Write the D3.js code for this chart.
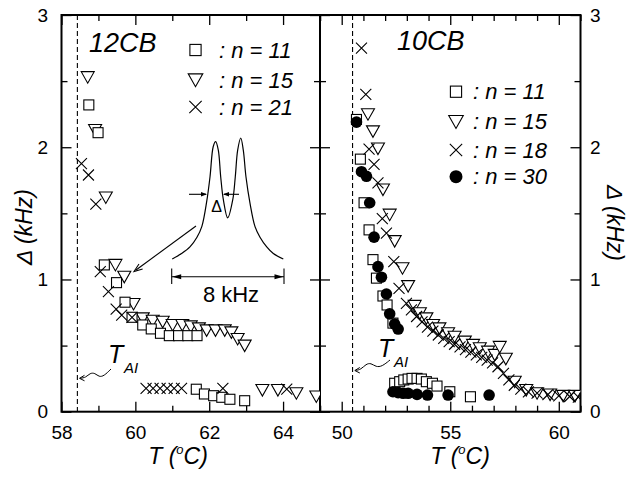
<!DOCTYPE html>
<html><head><meta charset="utf-8">
<script src="https://cdn.jsdelivr.net/npm/d3@7"></script>
<style>
html,body{margin:0;padding:0;background:#fff;}
svg{display:block;}
text{font-family:"Liberation Sans",Arial,Helvetica,sans-serif;fill:#000;}
</style></head>
<body>
<svg id="c" width="634" height="478"></svg>
<script>
// ---------------- data ----------------
// 12CB panel (T in °C, Δ in kHz)
const cb12_n11 = [[58.74,2.32],[58.99,2.11],[59.16,1.11],[59.49,0.976],[59.72,0.828],[59.91,0.714],[60.2,0.656],[60.43,0.626],[60.68,0.593],[60.92,0.575],[61.17,0.575],[61.42,0.575],[61.67,0.575],[61.65,0.17],[61.87,0.134],[62.12,0.121],[62.34,0.109],[62.56,0.094],[62.96,0.083]];
const cb12_n15 = [[58.71,2.53],[58.91,2.13],[59.2,1.62],[59.46,1.11],[59.7,1.02],[59.95,0.815],[60.2,0.706],[60.47,0.688],[60.74,0.68],[61.01,0.656],[61.27,0.656],[61.5,0.645],[61.72,0.63],[61.93,0.615],[62.17,0.615],[62.42,0.615],[62.6,0.6],[62.77,0.55],[62.96,0.5],[63.44,0.164],[63.86,0.164],[64.36,0.14],[64.9,0.115]];
const cb12_n21 = [[58.54,1.876],[58.73,1.79],[58.93,1.57],[59.05,1.06],[59.27,0.908],[59.48,0.775],[59.63,0.73],[59.91,0.714],[60.29,0.177],[60.48,0.177],[60.67,0.177],[60.86,0.177],[61.05,0.177],[61.25,0.177],[62.37,0.177],[64.1,0.17]];
// 10CB panel
const cb10_n11 = [[50.68,2.21],[50.86,1.91],[51.03,1.58],[51.26,1.375],[51.44,1.15],[51.6,1.01],[51.9,0.875],[52.09,0.807],[52.36,0.67],[52.44,0.215],[52.67,0.227],[52.86,0.24],[53.06,0.247],[53.24,0.252],[53.47,0.252],[53.67,0.247],[53.9,0.227],[54.18,0.215],[54.39,0.194],[54.98,0.151],[55.93,0.113]];
const cb10_n15 = [[51.21,2.25],[51.44,2.12],[51.67,1.99],[51.9,1.68],[52.21,1.49],[52.44,1.29],[52.8,1.085],[53.06,0.95],[53.36,0.8],[53.6,0.744],[53.9,0.706],[54.21,0.656],[54.5,0.63],[54.9,0.593],[55.2,0.567],[55.67,0.53],[56.05,0.505],[56.36,0.48],[56.74,0.454],[57.05,0.43],[57.28,0.49],[57.56,0.4],[57.97,0.227],[58.5,0.164],[59.0,0.14],[59.6,0.13],[60.2,0.12],[60.75,0.12]];
const cb10_n18 = [[50.91,2.75],[51.11,2.4],[51.26,1.985],[51.49,1.87],[51.67,1.73],[51.87,1.46],[52.06,1.35],[52.4,1.135],[52.64,0.933],[52.98,0.82],[53.21,0.77],[53.45,0.72],[53.7,0.68],[53.95,0.64],[54.2,0.61],[54.45,0.58],[54.7,0.555],[54.95,0.53],[55.2,0.51],[55.45,0.49],[55.7,0.47],[55.95,0.45],[56.2,0.43],[56.45,0.41],[56.7,0.39],[56.95,0.37],[57.2,0.34],[57.45,0.29],[57.7,0.24],[57.95,0.2],[58.25,0.17],[58.6,0.15],[59.0,0.14],[59.5,0.13],[60.0,0.12],[60.5,0.115],[60.9,0.11]];
const cb10_n30 = [[50.68,2.19],[50.91,1.815],[51.14,1.78],[51.29,1.58],[51.49,1.32],[51.67,1.097],[51.83,1.017],[52.06,0.89],[52.21,0.74],[52.44,0.663],[52.6,0.625],[52.36,0.151],[52.6,0.144],[52.83,0.139],[53.06,0.139],[53.47,0.131],[53.95,0.126],[54.9,0.126],[56.79,0.126]];
// T_AI transition temperatures
const tAI12 = 58.43;
const tAI10 = 50.5;
// inset spectrum: frequency offset (kHz) and relative intensity
const insetFreq = [-3.96,-3.3,-2.7,-2.2,-1.85,-1.5,-1.27,-1.04,-0.87,-0.68,-0.51,-0.32,-0.01,0.35,0.53,0.7,0.92,1.1,1.29,1.58,1.93,2.29,2.77,3.24,3.95];
const insetInt  = [0,0.045,0.1,0.18,0.27,0.48,0.68,0.93,0.97,0.9,0.68,0.49,0.34,0.49,0.68,0.9,1.0,0.9,0.68,0.46,0.27,0.18,0.1,0.045,0];
// axes ticks
const yMajor = [0,1,2,3];
const yMinor = [0.5,1.5,2.5];
const x12Major = [58,60,62,64];
const x12Minor = [59,61,63,65];
const x10Major = [50,55,60];
const x10Minor = [49,51,52,53,54,56,57,58,59,61];
const legend12 = [["sq",": n = 11"],["tri",": n = 15"],["x",": n = 21"]];
const legend10 = [["sq",": n = 11"],["tri",": n = 15"],["x",": n = 18"],["dot",": n = 30"]];

// ---------------- drawing ----------------
const svg = d3.select("#c");
const yTop = 15, yBot = 411.7, xL = 61.5, xM = 320, xR = 580.5;
const y = d3.scaleLinear().domain([0,3]).range([yBot, yTop]);
const x12 = d3.scaleLinear().domain([58,65]).range([xL, xM]);
const x10 = d3.scaleLinear().domain([49,61]).range([xM, xR]);

const defs = svg.append("defs");
defs.append("clipPath").attr("id","clipL").append("rect").attr("x",xL).attr("y",yTop).attr("width",xM-xL).attr("height",yBot-yTop);
defs.append("clipPath").attr("id","clipR").append("rect").attr("x",xM).attr("y",yTop).attr("width",xR-xM).attr("height",yBot-yTop);

const FS = "19px";
function styleAxis(g){
  g.select(".domain").remove();
  g.selectAll(".tick line").attr("stroke","#000").attr("stroke-width",1.3);
  g.selectAll("text").style("font-size",FS).attr("fill","#000");
}
function addX(x, major, minor){
  const b = svg.append("g").attr("transform",`translate(0,${yBot})`)
    .call(d3.axisBottom(x).tickValues(major).tickFormat(d3.format("d")).tickSizeInner(-10).tickSizeOuter(0).tickPadding(14));
  styleAxis(b);
  const bm = svg.append("g").attr("transform",`translate(0,${yBot})`)
    .call(d3.axisBottom(x).tickValues(minor).tickFormat("").tickSizeInner(-6).tickSizeOuter(0));
  styleAxis(bm);
  const t = svg.append("g").attr("transform",`translate(0,${yTop})`)
    .call(d3.axisTop(x).tickValues(major).tickFormat("").tickSizeInner(-10).tickSizeOuter(0));
  styleAxis(t);
  const tm = svg.append("g").attr("transform",`translate(0,${yTop})`)
    .call(d3.axisTop(x).tickValues(minor).tickFormat("").tickSizeInner(-6).tickSizeOuter(0));
  styleAxis(tm);
}
function addY(xpos, side, labels){
  const ax = side==="left" ? d3.axisLeft(y) : d3.axisRight(y);
  const g = svg.append("g").attr("transform",`translate(${xpos},0)`)
    .call(ax.tickValues(yMajor).tickFormat(labels? d3.format("d") : "").tickSizeInner(-10).tickSizeOuter(0).tickPadding(side==="left"?13.5:9.5));
  styleAxis(g);
  const gm = svg.append("g").attr("transform",`translate(${xpos},0)`)
    .call((side==="left" ? d3.axisLeft(y) : d3.axisRight(y)).tickValues(yMinor).tickFormat("").tickSizeInner(-6).tickSizeOuter(0));
  styleAxis(gm);
}
addX(x12, x12Major, x12Minor);
addX(x10, x10Major, x10Minor);
addY(xL, "left", true);
addY(xM, "right", false);
addY(xM, "left", false);
addY(xR, "right", true);

// frame
svg.append("rect").attr("x",xL).attr("y",yTop).attr("width",xR-xL).attr("height",yBot-yTop)
  .attr("fill","none").attr("stroke","#000").attr("stroke-width",2);
svg.append("line").attr("x1",xM).attr("x2",xM).attr("y1",yTop).attr("y2",yBot).attr("stroke","#000").attr("stroke-width",2);

// dashed T_AI lines
[[x12,tAI12],[x10,tAI10]].forEach(([x,t])=>{
  svg.append("line").attr("x1",x(t)).attr("x2",x(t)).attr("y1",yTop).attr("y2",yBot)
    .attr("stroke","#000").attr("stroke-width",1.1).attr("stroke-dasharray","5,3");
});

// markers
const sw = 1.1;
function marker(g, type, cx, cy, s){
  s = s||1;
  if(type==="sq"){
    g.append("rect").attr("x",cx-5*s).attr("y",cy-5*s).attr("width",10*s).attr("height",10*s)
      .attr("fill","#fff").attr("stroke","#000").attr("stroke-width",sw);
  } else if(type==="tri"){
    g.append("path").attr("d",`M${cx-6.5*s},${cy-5.5*s}L${cx+6.5*s},${cy-5.5*s}L${cx},${cy+6*s}Z`)
      .attr("fill","#fff").attr("stroke","#000").attr("stroke-width",sw);
  } else if(type==="x"){
    const h=5.5*s;
    g.append("path").attr("d",`M${cx-h},${cy-h}L${cx+h},${cy+h}M${cx-h},${cy+h}L${cx+h},${cy-h}`)
      .attr("fill","none").attr("stroke","#000").attr("stroke-width",sw);
  } else {
    g.append("circle").attr("cx",cx).attr("cy",cy).attr("r",5.8*s).attr("fill","#000");
  }
}
function series(clip, x, data, type){
  const g = svg.append("g").attr("clip-path",`url(#${clip})`);
  data.forEach(d=>marker(g,type,x(d[0]),y(d[1])));
}
series("clipL", x12, cb12_n15, "tri");
series("clipL", x12, cb12_n11, "sq");
series("clipL", x12, cb12_n21, "x");
series("clipR", x10, cb10_n15, "tri");
series("clipR", x10, cb10_n11, "sq");
series("clipR", x10, cb10_n18, "x");
series("clipR", x10, cb10_n30, "dot");

// titles
svg.append("text").attr("x",89).attr("y",51.5).style("font-size","27px").style("font-style","italic").text("12CB");
svg.append("text").attr("x",397).attr("y",50).style("font-size","27px").style("font-style","italic").text("10CB");

// legends
function legend(items, mx, tx, ys){
  items.forEach((it,i)=>{
    marker(svg, it[0], mx, ys[i], 1.12);
    svg.append("text").attr("x",tx).attr("y",ys[i]+7.5).style("font-size","22px").style("font-style","italic").text(it[1]);
  });
}
legend(legend12, 195.5, 219, [50,80,107]);
legend(legend10, 456, 473, [91.7,121.7,150,176.7]);

// inset spectrum
const ix = d3.scaleLinear().domain([-4,4]).range([171.7,284]);
const iy = d3.scaleLinear().domain([0,1]).range([259,138]);
const pts = insetFreq.map((f,i)=>[ix(f), iy(insetInt[i])]);
svg.append("path").attr("d", d3.line().curve(d3.curveCatmullRom.alpha(0.5))(pts))
  .attr("fill","none").attr("stroke","#000").attr("stroke-width",1.2);
// Δ arrows
function arrowHead(x, yy, dir, len, half){
  svg.append("path").attr("d",`M${x},${yy}L${x-dir*len},${yy-half}L${x-dir*len},${yy+half}Z`).attr("fill","#000");
}
svg.append("line").attr("x1",189).attr("x2",206).attr("y1",194.3).attr("y2",194.3).attr("stroke","#000").attr("stroke-width",1.1);
arrowHead(207,194.3,1,6,2.3);
svg.append("line").attr("x1",239).attr("x2",224).attr("y1",194.3).attr("y2",194.3).attr("stroke","#000").attr("stroke-width",1.1);
arrowHead(223,194.3,-1,6,2.3);
svg.append("text").attr("x",216.5).attr("y",212).attr("text-anchor","middle").style("font-size","16px").text("Δ");
// 8 kHz bar
const by = 276.7;
svg.append("line").attr("x1",ix(-4)).attr("x2",ix(4)).attr("y1",by).attr("y2",by).attr("stroke","#000").attr("stroke-width",1.1);
[-4,4].forEach(f=>{
  svg.append("line").attr("x1",ix(f)).attr("x2",ix(f)).attr("y1",268.5).attr("y2",284).attr("stroke","#000").attr("stroke-width",1.1);
});
arrowHead(ix(-4)+0.5,by,-1,9,2.5);
arrowHead(ix(4)-0.5,by,1,9,2.5);
svg.append("text").attr("x",231).attr("y",301.5).attr("text-anchor","middle").style("font-size","22px").text("8 kHz");
// pointer arrow
svg.append("line").attr("x1",196).attr("y1",226).attr("x2",136).attr("y2",270).attr("stroke","#000").attr("stroke-width",1.1);
(function(){
  const x2=134,y2=271.5,ang=Math.atan2(271.5-226,134-196);
  const l=9, w=0.35;
  const p1=[x2-l*Math.cos(ang-w), y2-l*Math.sin(ang-w)];
  const p2=[x2-l*Math.cos(ang+w), y2-l*Math.sin(ang+w)];
  svg.append("path").attr("d",`M${p1}L${x2},${y2}L${p2}`).attr("fill","none").attr("stroke","#000").attr("stroke-width",1.1);
})();

// T_AI labels with wavy arrows
function tai(tx, ty, dx, dy, wave, tipx, tipy){
  const t = svg.append("text").attr("x",tx).attr("y",ty).style("font-size","25px").style("font-style","italic");
  t.append("tspan").text("T");
  t.append("tspan").attr("dx",dx).attr("dy",dy).style("font-size","15px").text("AI");
  svg.append("path").attr("d", d3.line().curve(d3.curveBasis)(wave)).attr("fill","none").attr("stroke","#000").attr("stroke-width",1);
  svg.append("path").attr("d",`M${tipx+5},${tipy-3}L${tipx},${tipy}L${tipx+5},${tipy+2.5}`).attr("fill","none").attr("stroke","#000").attr("stroke-width",1);
}
tai(108, 363, 0.8, 10.3, [[111,369],[104,376],[99,377],[95,373],[90,373],[86,377.5],[80,378.3]], 79.5, 378.3);
tai(378, 356.7, 0.8, 10, [[390,360],[382,366.5],[376,367],[371,363],[366,364],[361,369.5],[355.5,370.5]], 354.8, 370.5);

// axis titles
function xTitle(cx){
  const t = svg.append("text").attr("x",cx).attr("y",464).attr("text-anchor","middle").style("font-size","23px").style("font-style","italic");
  t.append("tspan").text("T (");
  t.append("tspan").attr("dy",-10).style("font-size","13px").text("o");
  t.append("tspan").attr("dy",10).text("C)");
}
xTitle(178);
xTitle(460);
svg.append("text").attr("transform","translate(32,227) rotate(-90)").attr("text-anchor","middle").style("font-size","23px").style("font-style","italic").text("Δ (kHz)");
svg.append("text").attr("transform","translate(607,223) rotate(90)").attr("text-anchor","middle").style("font-size","23px").style("font-style","italic").text("Δ (kHz)");
</script>
</body></html>
